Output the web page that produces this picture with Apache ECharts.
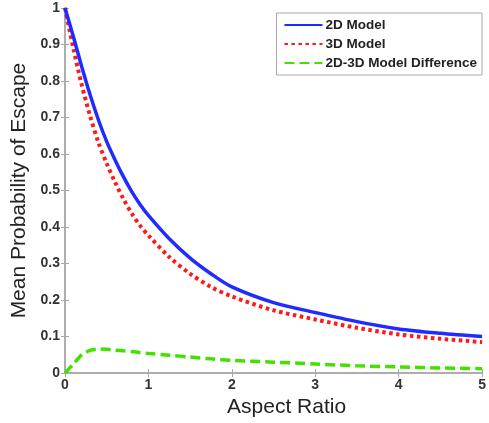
<!DOCTYPE html>
<html>
<head>
<meta charset="utf-8">
<script src="https://cdn.jsdelivr.net/npm/echarts@6/dist/echarts.min.js"></script>
<style>
  html, body { margin: 0; padding: 0; background: #fff; }
  #chart { width: 489px; height: 423px; }
</style>
</head>
<body>
<div id="chart"></div>
<script>
// aspect ratio samples (x axis)
var aspectRatio = [0, 0.1, 0.2, 0.3, 0.4, 0.5, 0.6, 0.7, 0.8, 0.9, 1.0, 1.25, 1.5, 1.75, 2.0, 2.5, 3.0, 3.5, 4.0, 4.5, 5.0];
// mean probability of escape
var model2D = [1.0, 0.922, 0.840, 0.763, 0.694, 0.634, 0.584, 0.538, 0.497, 0.462, 0.432, 0.368, 0.315, 0.272, 0.236, 0.193, 0.166, 0.141, 0.121, 0.109, 0.100];
var model3D = [1.0, 0.89, 0.79, 0.705, 0.632, 0.574, 0.523, 0.477, 0.437, 0.404, 0.377, 0.318, 0.272, 0.236, 0.210, 0.172, 0.147, 0.124, 0.106, 0.094, 0.085];
var modelDiff = [0, 0.025, 0.050, 0.062, 0.066, 0.065, 0.063, 0.061, 0.059, 0.056, 0.054, 0.049, 0.044, 0.039, 0.035, 0.030, 0.025, 0.020, 0.017, 0.014, 0.012];

var seriesNames = ['2D Model', '3D Model', '2D-3D Model Difference'];

function pairs(ys) {
  var out = [];
  for (var i = 0; i < aspectRatio.length; i++) {
    out.push([aspectRatio[i], ys[i]]);
  }
  return out;
}

var chart = echarts.init(document.getElementById('chart'));

var axisColor = '#a8a8a8';
var font = 'Liberation Sans, Arial, sans-serif';
var labelStyle = { color: '#333', fontSize: 14, fontWeight: 'bold', fontFamily: font };

var option = {
  animation: false,
  backgroundColor: '#fff',
  grid: { left: 65, top: 8, right: 2, bottom: 44 },
  legend: {
    data: seriesNames,
    orient: 'vertical',
    right: 7,
    top: 13,
    itemWidth: 38,
    itemHeight: 12,
    itemGap: 5,
    padding: [5, 5, 5, 7],
    backgroundColor: '#fff',
    borderColor: '#a8a8a8',
    borderWidth: 1,
    itemStyle: { opacity: 0 },
    textStyle: { color: '#222', fontSize: 13.5, fontWeight: 'bold', fontFamily: font, padding: [0, 0, 0, -2] }
  },
  xAxis: [{
    type: 'value',
    min: 0, max: 5, interval: 1,
    name: 'Aspect Ratio',
    nameLocation: 'middle',
    nameGap: 21,
    nameTextStyle: { color: '#222', fontSize: 21, fontFamily: font, padding: [0, 0, 0, 26] },
    axisLine: { show: true, lineStyle: { color: axisColor, width: 1.5 } },
    axisTick: { show: true, inside: true, length: 4, lineStyle: { color: axisColor } },
    axisLabel: Object.assign({ margin: 5 }, labelStyle),
    splitLine: { show: false }
  }, {
    type: 'value', position: 'top',
    min: 0, max: 5, interval: 1,
    axisLine: { show: true, lineStyle: { color: axisColor, width: 1.5 } },
    axisTick: { show: true, inside: true, length: 4, lineStyle: { color: axisColor } },
    axisLabel: { show: false },
    splitLine: { show: false }
  }],
  yAxis: [{
    type: 'value',
    min: 0, max: 1, interval: 0.1,
    name: 'Mean Probability of Escape',
    nameLocation: 'middle',
    nameGap: 27,
    nameTextStyle: { color: '#222', fontSize: 21, fontFamily: font },
    axisLine: { show: true, lineStyle: { color: axisColor, width: 1.5 } },
    axisTick: { show: true, inside: true, length: 4, lineStyle: { color: axisColor } },
    axisLabel: Object.assign({ margin: 5 }, labelStyle),
    splitLine: { show: false }
  }, {
    type: 'value', position: 'right',
    min: 0, max: 1, interval: 0.1,
    axisLine: { show: true, lineStyle: { color: axisColor, width: 1.5 } },
    axisTick: { show: true, inside: true, length: 4, lineStyle: { color: axisColor } },
    axisLabel: { show: false },
    splitLine: { show: false }
  }],
  series: [
    {
      name: seriesNames[0],
      type: 'line',
      data: pairs(model2D),
      smooth: 0.3,
      symbol: 'none',
      lineStyle: { color: '#1f2bff', width: 3.5 },
      itemStyle: { color: '#1f2bff' },
      z: 3
    },
    {
      name: seriesNames[1],
      type: 'line',
      data: pairs(model3D),
      smooth: 0.3,
      symbol: 'none',
      lineStyle: { color: '#ff1a1a', width: 4, type: [3.5, 3.5] },
      itemStyle: { color: '#ff1a1a' },
      z: 2
    },
    {
      name: seriesNames[2],
      type: 'line',
      data: pairs(modelDiff),
      smooth: 0.3,
      symbol: 'none',
      lineStyle: { color: '#44e000', width: 3.5, type: [10, 5] },
      itemStyle: { color: '#44e000' },
      z: 2
    }
  ]
};

chart.setOption(option);
</script>
</body>
</html>
